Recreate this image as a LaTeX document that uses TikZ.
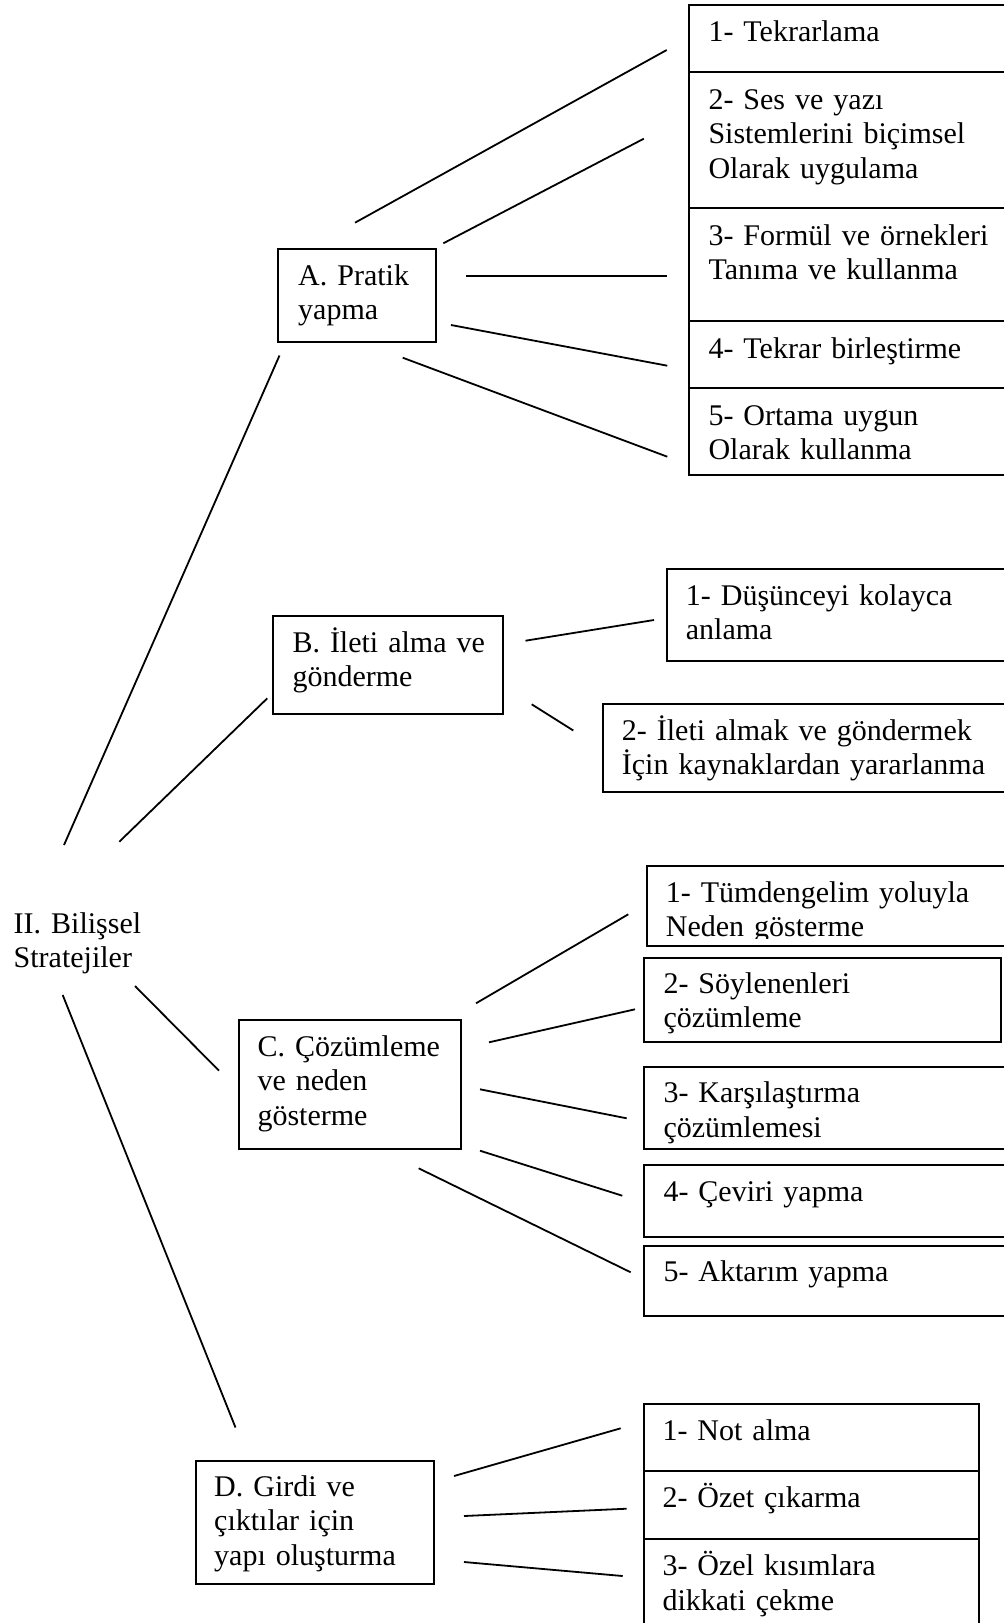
\documentclass[tikz,border=0pt]{standalone}
\usepackage{fontspec}
\setmainfont{Liberation Serif}
\usetikzlibrary{calc,fit}
% text face for all box labels
\newcommand\labelface{\fontsize{30pt}{34.6pt}\selectfont\spaceskip 6pt plus 1pt\relax}

\begin{document}
\begin{tikzpicture}[x=1pt,y=-1pt,
  box/.style={draw, line width=2pt, inner sep=0pt, rectangle},
  txt/.style={anchor=base west, inner sep=0pt, text width=420pt, align=left,
              font=\labelface},
  conn/.style={line width=1.8pt}]

% page area; boxes on the right run past the edge
\clip (0,0) rectangle (1004,1623);

% ---------- root ----------
\node[txt] (root) at (13.5,933) {II. Bilişsel\\Stratejiler};

% ---------- main category boxes ----------
\node[box, fit={(278.3,249.3) (435.7,342)}] (A) {};
\node[txt] (At) at ($(A.north west)+(20.7,37)$) {A. Pratik\\yapma};

\node[box, fit={(273.3,616) (503.3,714.3)}] (B) {};
\node[txt] (Bt) at ($(B.north west)+(20,37)$) {B. İleti alma ve\\gönderme};

\node[box, fit={(239,1020) (460.7,1148.7)}] (C) {};
\node[txt] (Ct) at ($(C.north west)+(19.3,37)$) {C. Çözümleme\\ve neden\\gösterme};

\node[box, fit={(196,1460.7) (434,1584)}] (D) {};
\node[txt] (Dt) at ($(D.north west)+(19,36.5)$) {D. Girdi ve\\çıktılar için\\yapı oluşturma};

% ---------- A: stacked sub-boxes ----------
\node[box, fit={(689.3,4.7) (1012,72)}] (a1) {};
\node[box, fit={(689.3,72) (1012,208.3)}] (a2) {};
\node[box, fit={(689.3,208.3) (1012,321)}] (a3) {};
\node[box, fit={(689.3,321) (1012,388.3)}] (a4) {};
\node[box, fit={(689.3,388.3) (1012,474.7)}] (a5) {};
\node[txt] (a1t) at ($(a1.north west)+(20,38)$) {1- Tekrarlama};
\node[txt] (a2t) at ($(a2.north west)+(20,38)$) {2- Ses ve yazı\\Sistemlerini biçimsel\\Olarak uygulama};
\node[txt] (a3t) at ($(a3.north west)+(20,38)$) {3- Formül ve örnekleri\\Tanıma ve kullanma};
\node[txt] (a4t) at ($(a4.north west)+(20,38)$) {4- Tekrar birleştirme};
\node[txt] (a5t) at ($(a5.north west)+(20,38)$) {5- Ortama uygun\\Olarak kullanma};

% ---------- B sub-boxes ----------
\node[box, fit={(667.3,569.3) (1012,660.7)}] (b1) {};
\node[txt] (b1t) at ($(b1.north west)+(19.4,37)$) {1- Düşünceyi kolayca\\anlama};
\node[box, fit={(602.7,704.3) (1012,791.7)}] (b2) {};
\node[txt] (b2t) at ($(b2.north west)+(20,37)$) {2- İleti almak ve göndermek\\İçin kaynaklardan yararlanma};

% ---------- C sub-boxes ----------
\node[box, fit={(646.7,866) (1012,946)}] (c1) {};
\begin{scope}
  \clip (c1.north west) rectangle ($(c1.south east)+(0,-9)$);
  \node[txt] (c1t) at ($(c1.north west)+(20,37)$) {1- Tümdengelim yoluyla\\Neden gösterme};
\end{scope}
\node[box, fit={(644.3,957.7) (1001,1042.3)}] (c2) {};
\node[txt] (c2t) at ($(c2.north west)+(20,36.5)$) {2- Söylenenleri\\çözümleme};
\node[box, fit={(644.3,1066.7) (1012,1148.7)}] (c3) {};
\node[txt] (c3t) at ($(c3.north west)+(20,37)$) {3- Karşılaştırma\\çözümlemesi};
\node[box, fit={(644.3,1165) (1012,1236.7)}] (c4) {};
\node[txt] (c4t) at ($(c4.north west)+(20,37)$) {4- Çeviri yapma};
\node[box, fit={(644.3,1245.7) (1012,1316)}] (c5) {};
\node[txt] (c5t) at ($(c5.north west)+(20,37)$) {5- Aktarım yapma};

% ---------- D: stacked sub-boxes ----------
\node[box, fit={(643.7,1404) (979.3,1470.7)}] (d1) {};
\node[box, fit={(643.7,1470.7) (979.3,1539.3)}] (d2) {};
\node[box, fit={(643.7,1539.3) (979.3,1632)}] (d3) {};
\node[txt] (d1t) at ($(d1.north west)+(19.6,37.7)$) {1- Not alma};
\node[txt] (d2t) at ($(d2.north west)+(19.6,37.6)$) {2- Özet çıkarma};
\node[txt] (d3t) at ($(d3.north west)+(19.6,37.3)$) {3- Özel kısımlara\\dikkati çekme};

% ---------- connector end points ----------
\coordinate (rA1) at (64,845);      \coordinate (rA2) at (279.5,355.5);
\coordinate (rB1) at (119.3,841.7); \coordinate (rB2) at (267.3,698.3);
\coordinate (rC1) at (135,986);     \coordinate (rC2) at (219,1070.7);
\coordinate (rD1) at (62.7,995);    \coordinate (rD2) at (235.5,1427.5);

\coordinate (A1s) at (355,222.7);   \coordinate (A1e) at (666.7,50);
\coordinate (A2s) at (443.3,243.3); \coordinate (A2e) at (643.8,138.7);
\coordinate (A3s) at (466,276);     \coordinate (A3e) at (667,276);
\coordinate (A4s) at (451,325);     \coordinate (A4e) at (667.3,365.7);
\coordinate (A5s) at (402.7,357.7); \coordinate (A5e) at (667.3,456.7);

\coordinate (B1s) at (525.5,640.7); \coordinate (B1e) at (654,620);
\coordinate (B2s) at (531.7,704.3); \coordinate (B2e) at (573.3,730.5);

\coordinate (C1s) at (476,1003.3);  \coordinate (C1e) at (628.3,914.3);
\coordinate (C2s) at (489,1042.3);  \coordinate (C2e) at (635,1009.3);
\coordinate (C3s) at (480,1089.3);  \coordinate (C3e) at (626.7,1118.3);
\coordinate (C4s) at (480,1150.7);  \coordinate (C4e) at (622.3,1195.7);
\coordinate (C5s) at (418.7,1168.3); \coordinate (C5e) at (630.7,1272.3);

\coordinate (D1s) at (454,1476);    \coordinate (D1e) at (620.7,1428.3);
\coordinate (D2s) at (464,1516);    \coordinate (D2e) at (626.7,1508.7);
\coordinate (D3s) at (464,1562);    \coordinate (D3e) at (622.7,1576);

% ---------- connectors ----------
\foreach \p in {rA,rB,rC,rD}
  \draw[conn] (\p1) -- (\p2);
\foreach \p in {A1,A2,A3,A4,A5,B1,B2,C1,C2,C3,C4,C5,D1,D2,D3}
  \draw[conn] (\p s) -- (\p e);

\end{tikzpicture}
\end{document}
